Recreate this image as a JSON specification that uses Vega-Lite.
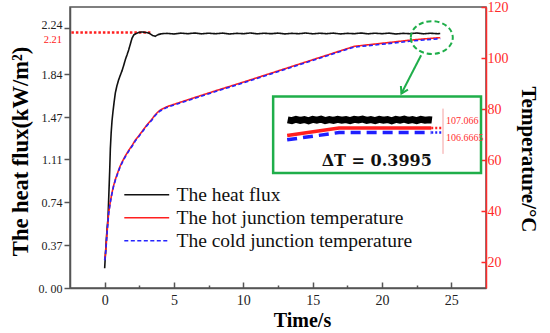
{
  "$schema": "https://vega.github.io/schema/vega-lite/v6.json",
  "width": 416,
  "height": 281,
  "autosize": {"type": "none"},
  "padding": {"left": 70, "top": 7, "right": 64, "bottom": 45},
  "background": "white",
  "config": {
    "view": {"stroke": "#555", "strokeWidth": 1.5},
    "font": "'Liberation Serif', 'Times New Roman', 'DejaVu Serif', serif",
    "axis": {"grid": false, "labelFont": "'Liberation Serif', 'Times New Roman', 'DejaVu Serif', serif", "titleFont": "'Liberation Serif', 'Times New Roman', 'DejaVu Serif', serif", "labelFlush": false, "labelOverlap": false},
    "legend": {"labelFont": "'Liberation Serif', 'Times New Roman', 'DejaVu Serif', serif"},
    "text": {"font": "'Liberation Serif', 'Times New Roman', 'DejaVu Serif', serif"}
  },
  "datasets": {
    "flux": [
      {"t": 0, "v": 0.17}, {"t": 0.06, "v": 0.3}, {"t": 0.12, "v": 0.42}, {"t": 0.18, "v": 0.52}, {"t": 0.24, "v": 0.6},
      {"t": 0.3, "v": 0.8}, {"t": 0.36, "v": 1.0}, {"t": 0.41, "v": 1.2}, {"t": 0.47, "v": 1.34}, {"t": 0.53, "v": 1.44},
      {"t": 0.6, "v": 1.52}, {"t": 0.68, "v": 1.6}, {"t": 0.77, "v": 1.68}, {"t": 0.88, "v": 1.74}, {"t": 1.0, "v": 1.79},
      {"t": 1.12, "v": 1.83}, {"t": 1.25, "v": 1.87}, {"t": 1.38, "v": 1.92}, {"t": 1.5, "v": 1.97}, {"t": 1.62, "v": 2.01},
      {"t": 1.73, "v": 2.05}, {"t": 1.85, "v": 2.1}, {"t": 1.97, "v": 2.15}, {"t": 2.1, "v": 2.18}, {"t": 2.25, "v": 2.19},
      {"t": 2.45, "v": 2.2}, {"t": 2.7, "v": 2.205}, {"t": 3.0, "v": 2.2}, {"t": 3.2, "v": 2.195}, {"t": 3.45, "v": 2.175},
      {"t": 3.65, "v": 2.168}, {"t": 3.85, "v": 2.182}, {"t": 4.1, "v": 2.19}, {"t": 4.5, "v": 2.193}, {"t": 5, "v": 2.188},
      {"t": 5.5, "v": 2.195}, {"t": 6, "v": 2.19}, {"t": 6.5, "v": 2.196}, {"t": 7, "v": 2.189}, {"t": 7.5, "v": 2.194},
      {"t": 8, "v": 2.19}, {"t": 8.5, "v": 2.195}, {"t": 9, "v": 2.188}, {"t": 9.5, "v": 2.193}, {"t": 10, "v": 2.19},
      {"t": 10.5, "v": 2.196}, {"t": 11, "v": 2.189}, {"t": 11.5, "v": 2.194}, {"t": 12, "v": 2.19}, {"t": 12.5, "v": 2.195},
      {"t": 13, "v": 2.188}, {"t": 13.5, "v": 2.193}, {"t": 14, "v": 2.19}, {"t": 14.5, "v": 2.196}, {"t": 15, "v": 2.189},
      {"t": 15.5, "v": 2.194}, {"t": 16, "v": 2.19}, {"t": 16.5, "v": 2.195}, {"t": 17, "v": 2.188}, {"t": 17.5, "v": 2.193},
      {"t": 18, "v": 2.19}, {"t": 18.5, "v": 2.196}, {"t": 19, "v": 2.189}, {"t": 19.5, "v": 2.194}, {"t": 20, "v": 2.19},
      {"t": 20.5, "v": 2.195}, {"t": 21, "v": 2.188}, {"t": 21.5, "v": 2.193}, {"t": 22, "v": 2.19}, {"t": 22.5, "v": 2.196},
      {"t": 23, "v": 2.189}, {"t": 23.5, "v": 2.194}, {"t": 24, "v": 2.19}, {"t": 24.2, "v": 2.192}
    ],
    "temp": [
      {"t": 0, "hot": 21, "cold": 20.8}, {"t": 0.05, "hot": 23, "cold": 22.8}, {"t": 0.1, "hot": 26, "cold": 25.8},
      {"t": 0.15, "hot": 30, "cold": 29.8}, {"t": 0.22, "hot": 35, "cold": 34.7}, {"t": 0.29, "hot": 39.5, "cold": 39.2},
      {"t": 0.4, "hot": 43.5, "cold": 43.2}, {"t": 0.5, "hot": 46.5, "cold": 46.2}, {"t": 0.63, "hot": 49.8, "cold": 49.5},
      {"t": 0.77, "hot": 52.5, "cold": 52.2}, {"t": 0.95, "hot": 55.3, "cold": 55.0}, {"t": 1.1, "hot": 57.5, "cold": 57.2},
      {"t": 1.3, "hot": 59.8, "cold": 59.5}, {"t": 1.49, "hot": 61.7, "cold": 61.4}, {"t": 1.75, "hot": 64, "cold": 63.7},
      {"t": 2.0, "hot": 66, "cold": 65.7}, {"t": 2.2, "hot": 67.8, "cold": 67.5}, {"t": 2.45, "hot": 69.5, "cold": 69.2},
      {"t": 2.7, "hot": 71.3, "cold": 71.0}, {"t": 3.0, "hot": 73.5, "cold": 73.2}, {"t": 3.2, "hot": 74.8, "cold": 74.5},
      {"t": 3.41, "hot": 76.1, "cold": 75.8}, {"t": 3.6, "hot": 77.5, "cold": 77.2}, {"t": 3.8, "hot": 78.7, "cold": 78.4},
      {"t": 4.0, "hot": 79.6, "cold": 79.3}, {"t": 4.2, "hot": 80.2, "cold": 79.9}, {"t": 4.5, "hot": 81, "cold": 80.7},
      {"t": 5, "hot": 81.9, "cold": 81.6}, {"t": 6, "hot": 83.7, "cold": 83.4}, {"t": 8, "hot": 87.2, "cold": 86.9},
      {"t": 10, "hot": 90.6, "cold": 90.3}, {"t": 12, "hot": 94.1, "cold": 93.8}, {"t": 14, "hot": 97.6, "cold": 97.3},
      {"t": 16, "hot": 101.1, "cold": 100.8}, {"t": 18, "hot": 104.6, "cold": 104.3}, {"t": 20, "hot": 105.8, "cold": 105.4},
      {"t": 22, "hot": 107.0, "cold": 106.6}, {"t": 23, "hot": 107.5, "cold": 107.1}, {"t": 24.2, "hot": 108.0, "cold": 107.6}
    ],
    "insetFlux": [
      {"t": 13.2, "v": 1.448}, {"t": 13.5, "v": 1.441}, {"t": 13.8, "v": 1.453}, {"t": 14.1, "v": 1.444}, {"t": 14.4, "v": 1.451},
      {"t": 14.7, "v": 1.44}, {"t": 15.0, "v": 1.452}, {"t": 15.3, "v": 1.446}, {"t": 15.6, "v": 1.454}, {"t": 15.9, "v": 1.442},
      {"t": 16.2, "v": 1.45}, {"t": 16.5, "v": 1.443}, {"t": 16.8, "v": 1.453}, {"t": 17.1, "v": 1.445}, {"t": 17.4, "v": 1.451},
      {"t": 17.7, "v": 1.441}, {"t": 18.0, "v": 1.452}, {"t": 18.3, "v": 1.447}, {"t": 18.6, "v": 1.454}, {"t": 18.9, "v": 1.443},
      {"t": 19.2, "v": 1.45}, {"t": 19.5, "v": 1.442}, {"t": 19.8, "v": 1.453}, {"t": 20.1, "v": 1.445}, {"t": 20.4, "v": 1.451},
      {"t": 20.7, "v": 1.44}, {"t": 21.0, "v": 1.452}, {"t": 21.3, "v": 1.446}, {"t": 21.6, "v": 1.454}, {"t": 21.9, "v": 1.443},
      {"t": 22.2, "v": 1.45}, {"t": 22.5, "v": 1.442}, {"t": 22.8, "v": 1.452}, {"t": 23.1, "v": 1.445}, {"t": 23.4, "v": 1.449},
      {"t": 23.6, "v": 1.446}
    ],
    "insetTemp": [
      {"t": 13.16, "hot": 1.313, "cold": 1.276},
      {"t": 16.9, "hot": 1.378, "cold": 1.339},
      {"t": 23.55, "hot": 1.378, "cold": 1.339}
    ]
  },
  "layer": [
    {
      "layer": [
        {
          "data": {"values": [{}]},
          "mark": {"type": "rule", "color": "#ff1f1f", "strokeWidth": 2.5, "strokeDash": [2.5, 2]},
          "encoding": {
            "x": {"datum": -2.4, "type": "quantitative", "scale": {"domain": [-2.5, 27.5], "nice": false, "zero": false}},
            "x2": {"datum": 3.4},
            "y": {"datum": 2.2, "type": "quantitative", "scale": {"domain": [0, 2.42], "nice": false, "zero": false}}
          }
        },
        {
          "data": {"values": [{}]},
          "mark": {"type": "text", "color": "#ff2020", "fontSize": 10.5, "align": "right", "baseline": "middle", "dx": -8, "dy": 7},
          "encoding": {
            "x": {"datum": -2.5, "type": "quantitative", "scale": {"domain": [-2.5, 27.5], "nice": false, "zero": false}},
            "y": {"datum": 2.2, "type": "quantitative", "scale": {"domain": [0, 2.42], "nice": false, "zero": false}},
            "text": {"value": "2.21"}
          }
        },
        {
          "data": {"name": "flux"},
          "mark": {"type": "line", "strokeWidth": 1.6},
          "encoding": {
            "x": {
              "field": "t", "type": "quantitative",
              "scale": {"domain": [-2.5, 27.5], "nice": false, "zero": false},
              "axis": {
                "orient": "bottom",
                "title": "Time/s", "titleFontSize": 20, "titleFontWeight": "bold", "titleColor": "black", "titlePadding": 0, "titleX": 232,
                "values": [0, 2.5, 5, 7.5, 10, 12.5, 15, 17.5, 20, 22.5, 25],
                "labelExpr": "datum.value % 5 == 0 ? toString(datum.value) : ''",
                "labelFontSize": 14, "labelColor": "#222", "labelPadding": 11,
                "tickSize": {"condition": {"test": "datum.value % 5 == 0", "value": -6}, "value": -3},
                "tickColor": "#555", "tickWidth": 1.5, "domainColor": "#555", "domainWidth": 1.5
              }
            },
            "y": {
              "field": "v", "type": "quantitative",
              "scale": {"domain": [0, 2.42], "nice": false, "zero": false},
              "axis": {
                "orient": "left",
                "title": "The heat flux(kW/m²)", "titleFontSize": 22.5, "titleFontWeight": "bold", "titleColor": "black", "titlePadding": 6, "titleY": 144,
                "values": [0, 0.185, 0.37, 0.555, 0.74, 0.925, 1.11, 1.29, 1.47, 1.655, 1.84, 2.05, 2.24],
                "labelExpr": "datum.value == 0 ? '0. 00' : (indexof([0.37, 0.74, 1.11, 1.47, 1.84, 2.24], datum.value) >= 0 ? format(datum.value, '.2f') : '')",
                "labelFontSize": 12, "labelPadding": 2, "labelOverlap": false, "labelColor": "#222",
                "labelOffset": {"condition": {"test": "datum.value == 2.24", "value": -3}, "value": 0},
                "tickSize": {"condition": {"test": "indexof([0, 0.37, 0.74, 1.11, 1.47, 1.84, 2.24], datum.value) >= 0", "value": 6}, "value": 3},
                "tickColor": "#555", "tickWidth": 1.5, "domainColor": "#555", "domainWidth": 1.5
              }
            },
            "color": {
              "datum": "The heat flux", "type": "nominal",
              "scale": {"domain": ["The heat flux", "The hot junction temperature", "The cold junction temperature"], "range": ["#111111", "#ff1f1f", "#2424ff"]},
              "legend": {
                "orient": "none", "legendX": 67, "legendY": 178, "title": null,
                "symbolType": "M-4,0L4,0", "symbolSize": 126, "symbolStrokeWidth": 1.6,
                "labelFontSize": 19.5, "labelColor": "#111", "labelLimit": 400,
                "rowPadding": 2, "labelOffset": 20, "padding": 0
              }
            },
            "strokeDash": {
              "datum": "The heat flux", "type": "nominal",
              "scale": {"domain": ["The heat flux", "The hot junction temperature", "The cold junction temperature"], "range": [[1, 0], [1, 0], [4, 2.5]]}
            }
          }
        }
      ]
    },
    {
      "layer": [
        {
          "data": {"name": "temp"},
          "mark": {"type": "line", "strokeWidth": 1.6},
          "encoding": {
            "x": {"field": "t", "type": "quantitative", "scale": {"domain": [-2.5, 27.5], "nice": false, "zero": false}},
            "y": {
              "field": "hot", "type": "quantitative",
              "scale": {"domain": [10, 120], "nice": false, "zero": false},
              "axis": {
                "orient": "right",
                "title": "Temperature/°C", "titleFontSize": 21, "titleFontWeight": "bold", "titleColor": "black", "titlePadding": 9, "titleY": 152,
                "values": [20, 30, 40, 50, 60, 70, 80, 90, 100, 110, 120],
                "labelExpr": "datum.value % 20 == 0 ? toString(datum.value) : ''",
                "labelFontSize": 14, "labelColor": "#ff2a2a", "labelPadding": 6,
                "tickSize": {"condition": {"test": "datum.value % 20 == 0", "value": -5}, "value": -3},
                "tickColor": "#ff2a2a", "tickWidth": 1.5, "domainColor": "#ff2a2a", "domainWidth": 1.5
              }
            },
            "color": {"datum": "The hot junction temperature", "type": "nominal"},
            "strokeDash": {"datum": "The hot junction temperature", "type": "nominal"}
          }
        },
        {
          "data": {"name": "temp"},
          "mark": {"type": "line", "strokeWidth": 1.6},
          "encoding": {
            "x": {"field": "t", "type": "quantitative", "scale": {"domain": [-2.5, 27.5], "nice": false, "zero": false}},
            "y": {"field": "cold", "type": "quantitative", "scale": {"domain": [10, 120], "nice": false, "zero": false}},
            "color": {"datum": "The cold junction temperature", "type": "nominal"},
            "strokeDash": {"datum": "The cold junction temperature", "type": "nominal"}
          }
        }
      ]
    },
    {
      "layer": [
        {
          "data": {"values": [{}]},
          "mark": {"type": "rect", "fill": "white", "stroke": "#1fae4a", "strokeWidth": 2.5},
          "encoding": {
            "x": {"datum": 12.15, "type": "quantitative", "scale": {"domain": [-2.5, 27.5], "nice": false, "zero": false}},
            "x2": {"datum": 27.14},
            "y": {"datum": 0.99, "type": "quantitative", "scale": {"domain": [0, 2.42], "nice": false, "zero": false}, "axis": null},
            "y2": {"datum": 1.649}
          }
        },
        {
          "data": {"name": "insetFlux"},
          "mark": {"type": "line", "color": "#000", "strokeWidth": 7},
          "encoding": {
            "x": {"field": "t", "type": "quantitative", "scale": {"domain": [-2.5, 27.5], "nice": false, "zero": false}},
            "y": {"field": "v", "type": "quantitative", "scale": {"domain": [0, 2.42], "nice": false, "zero": false}, "axis": null}
          }
        },
        {
          "data": {"name": "insetTemp"},
          "mark": {"type": "line", "color": "#ff1f1f", "strokeWidth": 3.5},
          "encoding": {
            "x": {"field": "t", "type": "quantitative", "scale": {"domain": [-2.5, 27.5], "nice": false, "zero": false}},
            "y": {"field": "hot", "type": "quantitative", "scale": {"domain": [0, 2.42], "nice": false, "zero": false}, "axis": null}
          }
        },
        {
          "data": {"name": "insetTemp"},
          "mark": {"type": "line", "color": "#1f1fff", "strokeWidth": 3.5, "strokeDash": [10, 6]},
          "encoding": {
            "x": {"field": "t", "type": "quantitative", "scale": {"domain": [-2.5, 27.5], "nice": false, "zero": false}},
            "y": {"field": "cold", "type": "quantitative", "scale": {"domain": [0, 2.42], "nice": false, "zero": false}, "axis": null}
          }
        },
        {
          "data": {"values": [{}]},
          "mark": {"type": "rule", "color": "#ff1f1f", "strokeWidth": 2.5, "strokeDash": [2, 2]},
          "encoding": {
            "x": {"datum": 23.55, "type": "quantitative", "scale": {"domain": [-2.5, 27.5], "nice": false, "zero": false}},
            "x2": {"datum": 24.3},
            "y": {"datum": 1.378, "type": "quantitative", "scale": {"domain": [0, 2.42], "nice": false, "zero": false}, "axis": null}
          }
        },
        {
          "data": {"values": [{}]},
          "mark": {"type": "rule", "color": "#1f1fff", "strokeWidth": 2.5, "strokeDash": [2, 2]},
          "encoding": {
            "x": {"datum": 23.55, "type": "quantitative", "scale": {"domain": [-2.5, 27.5], "nice": false, "zero": false}},
            "x2": {"datum": 24.3},
            "y": {"datum": 1.339, "type": "quantitative", "scale": {"domain": [0, 2.42], "nice": false, "zero": false}, "axis": null}
          }
        },
        {
          "data": {"values": [{}]},
          "mark": {"type": "rule", "color": "#f4a0a0", "strokeWidth": 1},
          "encoding": {
            "x": {"datum": 24.4, "type": "quantitative", "scale": {"domain": [-2.5, 27.5], "nice": false, "zero": false}},
            "y": {"datum": 1.155, "type": "quantitative", "scale": {"domain": [0, 2.42], "nice": false, "zero": false}, "axis": null},
            "y2": {"datum": 1.545}
          }
        },
        {
          "data": {"values": [{}]},
          "mark": {"type": "text", "color": "#ff3030", "fontSize": 10, "align": "left", "baseline": "middle"},
          "encoding": {
            "x": {"datum": 24.62, "type": "quantitative", "scale": {"domain": [-2.5, 27.5], "nice": false, "zero": false}},
            "y": {"datum": 1.441, "type": "quantitative", "scale": {"domain": [0, 2.42], "nice": false, "zero": false}, "axis": null},
            "text": {"value": "107.066"}
          }
        },
        {
          "data": {"values": [{}]},
          "mark": {"type": "text", "color": "#ff3030", "fontSize": 10, "align": "left", "baseline": "middle"},
          "encoding": {
            "x": {"datum": 24.62, "type": "quantitative", "scale": {"domain": [-2.5, 27.5], "nice": false, "zero": false}},
            "y": {"datum": 1.293, "type": "quantitative", "scale": {"domain": [0, 2.42], "nice": false, "zero": false}, "axis": null},
            "text": {"value": "106.6665"}
          }
        },
        {
          "data": {"values": [{}]},
          "mark": {"type": "text", "color": "#111", "fontSize": 16, "fontWeight": "bold", "font": "'DejaVu Serif', serif", "align": "center", "baseline": "middle"},
          "encoding": {
            "x": {"datum": 19.62, "type": "quantitative", "scale": {"domain": [-2.5, 27.5], "nice": false, "zero": false}},
            "y": {"datum": 1.094, "type": "quantitative", "scale": {"domain": [0, 2.42], "nice": false, "zero": false}, "axis": null},
            "text": {"value": "ΔT = 0.3995"}
          }
        },
        {
          "data": {"values": [{}]},
          "mark": {"type": "point", "shape": "M-1,0A1,0.78,0,1,1,1,0A1,0.78,0,1,1,-1,0Z", "size": 1764, "filled": false, "stroke": "#1fae4a", "strokeWidth": 2, "strokeDash": [5, 3], "opacity": 1},
          "encoding": {
            "x": {"datum": 23.59, "type": "quantitative", "scale": {"domain": [-2.5, 27.5], "nice": false, "zero": false}},
            "y": {"datum": 2.157, "type": "quantitative", "scale": {"domain": [0, 2.42], "nice": false, "zero": false}, "axis": null}
          }
        },
        {
          "data": {"values": [{}]},
          "mark": {"type": "rule", "color": "#1fae4a", "strokeWidth": 2},
          "encoding": {
            "x": {"datum": 22.82, "type": "quantitative", "scale": {"domain": [-2.5, 27.5], "nice": false, "zero": false}},
            "x2": {"datum": 21.4},
            "y": {"datum": 2.005, "type": "quantitative", "scale": {"domain": [0, 2.42], "nice": false, "zero": false}, "axis": null},
            "y2": {"datum": 1.675}
          }
        },
        {
          "data": {"values": [{}]},
          "mark": {"type": "point", "shape": "M-1,-1.6L0,0L1,-1.6", "size": 64, "filled": false, "stroke": "#1fae4a", "strokeWidth": 2, "angle": 28, "opacity": 1},
          "encoding": {
            "x": {"datum": 21.4, "type": "quantitative", "scale": {"domain": [-2.5, 27.5], "nice": false, "zero": false}},
            "y": {"datum": 1.675, "type": "quantitative", "scale": {"domain": [0, 2.42], "nice": false, "zero": false}, "axis": null}
          }
        }
      ]
    }
  ],
  "resolve": {"scale": {"y": "independent"}}
}
